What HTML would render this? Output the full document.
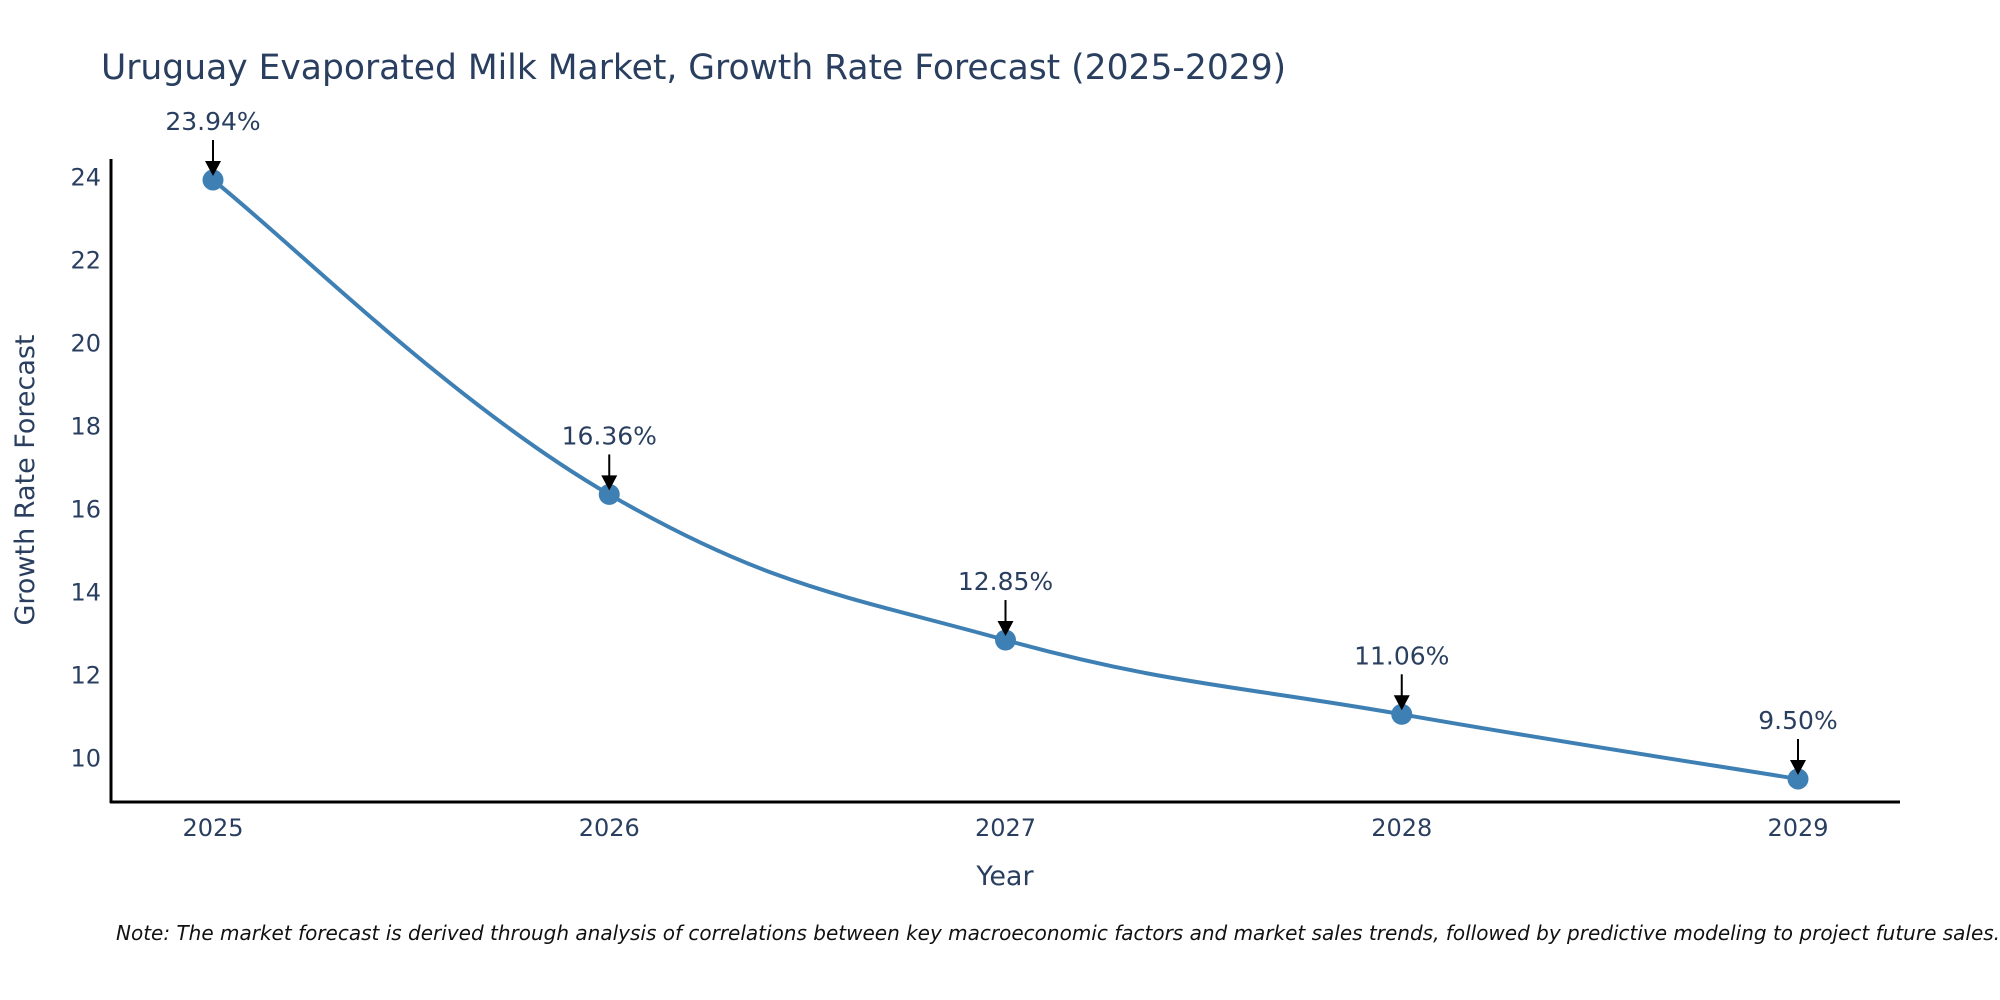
<!DOCTYPE html>
<html><head><meta charset="utf-8"><style>
body{margin:0;background:#fff;}
svg{display:block;font-family:"DejaVu Sans","Liberation Sans",sans-serif;}
</style></head><body>
<svg id="chart" width="2000" height="1000" viewBox="0 0 2000 1000">
<text x="101" y="79" font-size="34.5" fill="#2a3f5f">Uruguay Evaporated Milk Market, Growth Rate Forecast (2025-2029)</text>
<g id="yticks"></g>
<g id="xticks"></g>
<line x1="111" y1="159" x2="111" y2="803" stroke="#000" stroke-width="3"/>
<line x1="110" y1="802" x2="1900" y2="802" stroke="#000" stroke-width="3"/>
<path id="line" fill="none" stroke="#3f80b4" stroke-width="4"/>
<g id="marks"></g>
<text transform="translate(34,480) rotate(-90)" text-anchor="middle" font-size="27" fill="#2a3f5f">Growth Rate Forecast</text>
<text x="1005" y="885" text-anchor="middle" font-size="27" fill="#2a3f5f">Year</text>
<text x="116" y="940" font-size="20" font-style="italic" fill="#111">Note: The market forecast is derived through analysis of correlations between key macroeconomic factors and market sales trends, followed by predictive modeling to project future sales.</text>
</svg>
<script>
const years = [2025, 2026, 2027, 2028, 2029];
const values = [23.94, 16.36, 12.85, 11.06, 9.50];
const labels = ["23.94%", "16.36%", "12.85%", "11.06%", "9.50%"];
const yTicks = [10, 12, 14, 16, 18, 20, 22, 24];

const NS = "http://www.w3.org/2000/svg";
const x = v => 213 + (v - 2025) * (1798 - 213) / 4;
const y = v => 779 - (v - 9.5) * (779 - 180) / (23.94 - 9.5);
function mk(tag, attrs, parent){const e=document.createElementNS(NS,tag);for(const k in attrs)e.setAttribute(k,attrs[k]);parent.appendChild(e);return e;}
const yt=document.getElementById('yticks');
yTicks.forEach(t=>{
  const e=mk('text',{x:101,y:y(t)+8,'text-anchor':'end','font-size':24,fill:'#2a3f5f'},yt);
  
  
  e.textContent=t;
});
const xt=document.getElementById('xticks');
years.forEach(t=>{
  const e=mk('text',{x:x(t),y:836,'text-anchor':'middle','font-size':24,fill:'#2a3f5f'},xt);
  
  
  e.textContent=t;
});
const pts=years.map((yr,i)=>[x(yr),y(values[i])]);
let d=`M${pts[0][0]},${pts[0][1]}`;
const s=0.2;
for(let i=0;i<pts.length-1;i++){
  const p0=pts[Math.max(0,i-1)],p1=pts[i],p2=pts[i+1],p3=pts[Math.min(pts.length-1,i+2)];
  const c1=[p1[0]+(p2[0]-p0[0])*s,p1[1]+(p2[1]-p0[1])*s];
  const c2=[p2[0]-(p3[0]-p1[0])*s,p2[1]-(p3[1]-p1[1])*s];
  d+=` C${c1[0]},${c1[1]} ${c2[0]},${c2[1]} ${p2[0]},${p2[1]}`;
}
document.getElementById('line').setAttribute('d',d);
const m=document.getElementById('marks');
pts.forEach((p,i)=>{
  const c=mk('circle',{cx:p[0],cy:p[1],r:10.5,fill:'#3f80b4'},m);
  
  
  const l=mk('line',{x1:p[0],y1:p[1]-40,x2:p[0],y2:p[1]-18,stroke:'#000','stroke-width':2},m);
  
  
  const h=mk('polygon',{points:`${p[0]-8},${p[1]-19} ${p[0]+8},${p[1]-19} ${p[0]},${p[1]-4}`,fill:'#000'},m);
  
  
  const t=mk('text',{x:p[0],y:p[1]-50,'text-anchor':'middle','font-size':25,fill:'#2a3f5f'},m);
  
  
  t.textContent=labels[i];
});
</script>
</body></html>
